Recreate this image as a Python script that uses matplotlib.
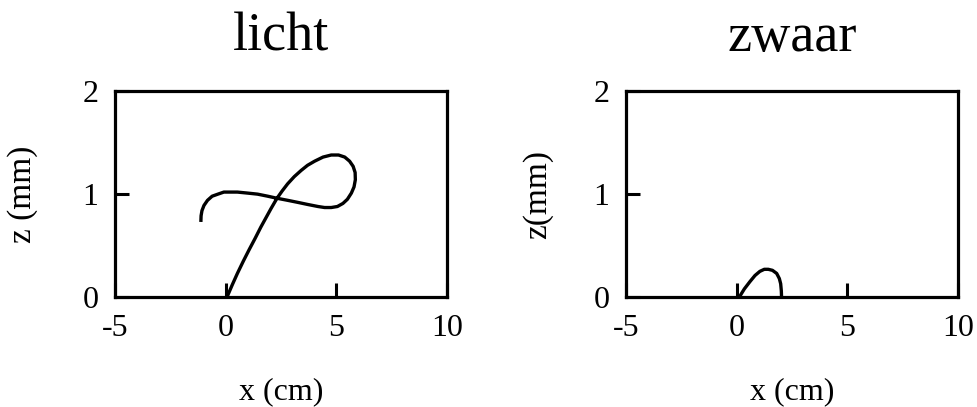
import matplotlib
matplotlib.use("Agg")
import matplotlib.pyplot as plt

plt.rcParams['font.family'] = ['Liberation Serif', 'DejaVu Serif']

# Trajectory "licht" (x in cm, z in mm)
licht_x = [0.08, 0.30, 0.53, 0.80, 1.06, 1.33, 1.59, 1.82, 2.05, 2.32, 2.55, 2.80,
           3.10, 3.41, 3.70, 4.02, 4.40, 4.77, 5.10, 5.38, 5.60, 5.76, 5.85, 5.86,
           5.80, 5.68, 5.50, 5.30, 5.05, 4.77, 4.47, 4.17, 3.70, 3.26, 2.80, 2.32,
           1.90, 1.44, 1.00, 0.53, 0.20, -0.08, -0.35, -0.61, -0.82, -0.98, -1.07,
           -1.11, -1.12]
licht_z = [0.01, 0.12, 0.23, 0.35, 0.46, 0.57, 0.68, 0.77, 0.86, 0.96, 1.03, 1.10,
           1.17, 1.23, 1.28, 1.32, 1.36, 1.38, 1.38, 1.36, 1.32, 1.27, 1.21, 1.14,
           1.07, 1.01, 0.95, 0.91, 0.88, 0.87, 0.87, 0.88, 0.90, 0.92, 0.94, 0.96,
           0.98, 1.00, 1.01, 1.02, 1.02, 1.02, 1.00, 0.98, 0.94, 0.89, 0.84,
           0.79, 0.73]

# Trajectory "zwaar"
zwaar_x = [0.12, 0.35, 0.60, 0.83, 1.05, 1.25, 1.43, 1.62, 1.81, 1.93, 1.99, 2.02, 2.03]
zwaar_z = [0.00, 0.08, 0.15, 0.21, 0.25, 0.27, 0.27, 0.26, 0.23, 0.18, 0.13, 0.06, 0.00]

titles = ["licht", "zwaar"]
ylabels = ["z (mm)", "z(mm)"]
xlabel = "x (cm)"
xticks = [-5, 0, 5, 10]
yticks = [0, 1, 2]

fig = plt.figure(figsize=(9.77, 4.07), dpi=100)
axes = [fig.add_axes([0.1177, 0.270, 0.3398, 0.506]),
        fig.add_axes([0.6407, 0.270, 0.3398, 0.506])]
ylab_x = [-0.232, -0.22]

for ax, xs, zs, t, yl, lx in zip(axes, [licht_x, zwaar_x], [licht_z, zwaar_z],
                                 titles, ylabels, ylab_x):
    ax.plot(xs, zs, color='black', lw=2.4, solid_capstyle='butt')
    ax.set_xlim(-5, 10)
    ax.set_ylim(0, 2)
    ax.set_xticks(xticks)
    ax.set_xticklabels([str(v) for v in xticks])
    ax.set_yticks(yticks)
    ax.set_yticklabels([str(v) for v in yticks])
    ax.tick_params(direction='in', length=10, width=2.2, labelsize=23, pad=12,
                   top=False, right=False)
    for s in ax.spines.values():
        s.set_linewidth(2.3)
    ax.set_title(t, fontsize=39, pad=29)
    ax.set_xlabel(xlabel, fontsize=23)
    ax.set_ylabel(yl, fontsize=24)
    ax.xaxis.set_label_coords(0.5, -0.388)
    ax.yaxis.set_label_coords(lx, 0.5)

fig.savefig("out.png", dpi=100)
